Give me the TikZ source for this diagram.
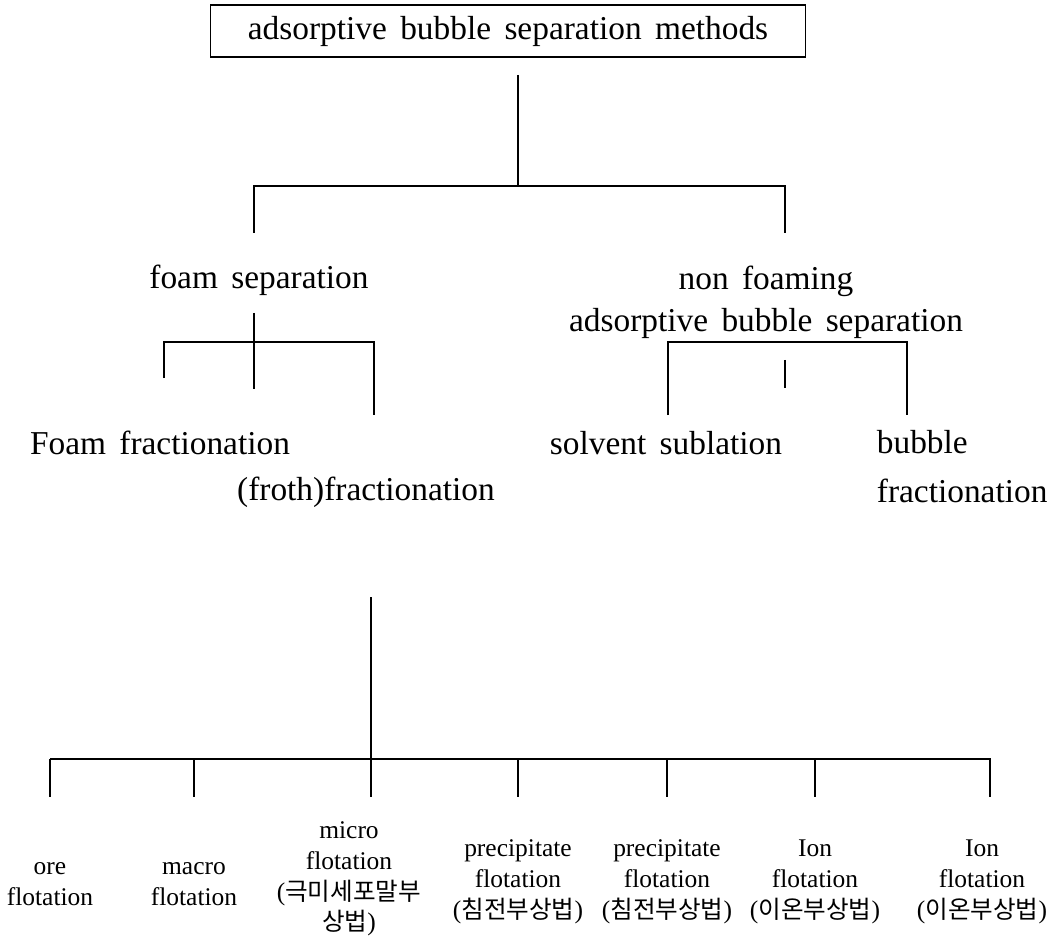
\documentclass[tikz,border=0pt]{standalone}
\usepackage{fontspec}
\setmainfont{Liberation Serif}
\newfontfamily\wideserif[WordSpace=1.6]{Liberation Serif}
\newfontfamily\kor{Noto Sans CJK KR}
\usetikzlibrary{positioning}

\tikzset{
	head/.style={font=\wideserif\fontsize{19}{24}\selectfont, inner sep=0pt, align=center},
	leaf/.style={font=\fontsize{14.5}{17.5}\selectfont, inner sep=0pt, align=center},
}
\newcommand{\ko}[1]{{\kor\fontsize{14}{17.5}\selectfont #1}}

\begin{document}
\begin{tikzpicture}[x=.02cm, y=-.02cm, line width=1pt]
	\useasboundingbox (0,0) rectangle (1051,942);
	% top level
	\node[head, draw, minimum width=11.9cm, minimum height=1.04cm] (ABS) at (508,31) {adsorptive bubble separation methods};
	\coordinate (A0) at (518,75);
	\coordinate (A1) at (518,186);
	\coordinate (FS0) at (254,233);
	\coordinate (NF0) at (785,233);
	\draw (A0)--(A1);
	\draw (FS0) |- (A1) -| (NF0);
	\node[head] (FS) at (259,280) {foam separation};
	\node[head] (NF) at (766,302) {non foaming\\adsorptive bubble separation};
	% foam separation branch
	\coordinate (F0) at (254,313);
	\coordinate (F1) at (254,389);
	\coordinate (FM) at (254,342);
	\coordinate (FA) at (164,378);
	\coordinate (FB) at (374,415);
	\draw (F0)--(F1);
	\draw (FA) |- (FM) -| (FB);
	\node[head] (FF) at (160,443) {Foam fractionation};
	\node[head] (FR) at (366,492) {(froth)fractionation};
	% non foaming branch
	\coordinate (NM) at (785,342);
	\coordinate (NA) at (668,415);
	\coordinate (NB) at (907,415);
	\coordinate (N0) at (785,360);
	\coordinate (N1) at (785,388);
	\draw (NA) |- (NM) -| (NB);
	\draw (N0)--(N1);
	\node[head] (SS) at (666,443) {solvent sublation};
	\node[head, align=left, anchor=west] (BF) at (876,467) {bubble\\[3.8pt]fractionation};
	% flotation
	\coordinate (B0) at (371,597);
	\coordinate (B1) at (371,759);
	\coordinate (B2) at (990,759);
	\node[leaf] (ore) at (50,884) {ore\\flotation};
	\node[leaf] (macro) at (194,884) {macro\\flotation};
	\node[leaf] (micro) at (349,879) {micro\\flotation\\(\ko{극미세포말부}\\\ko{상법})};
	\node[leaf] (pre1) at (518,882) {precipitate\\flotation\\(\ko{침전부상법})};
	\node[leaf] (pre2) at (667,882) {precipitate\\flotation\\(\ko{침전부상법})};
	\node[leaf] (ion1) at (815,882) {Ion\\flotation\\(\ko{이온부상법})};
	\node[leaf] (ion2) at (982,882) {Ion\\flotation\\(\ko{이온부상법})};
	\draw (B0)--++(0,200);
	\draw (ore |- B1)--(B2)--++(0,38);
	\foreach \n in {ore,macro,pre1,pre2,ion1}
		\draw (\n |- B1)--++(0,38);
\end{tikzpicture}
\end{document}
